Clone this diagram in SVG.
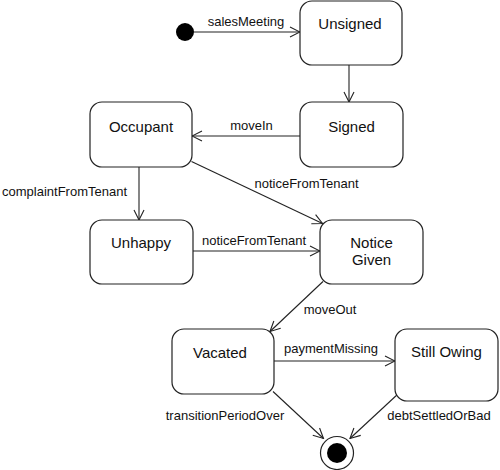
<svg xmlns="http://www.w3.org/2000/svg" width="500" height="470" viewBox="0 0 500 470">
<style>
.st{fill:#fff;stroke:#222;stroke-width:1.2}
.sn{font-family:"Liberation Sans",Arial,sans-serif;font-size:15px;fill:#111;text-anchor:middle}
.lb{font-family:"Liberation Sans",Arial,sans-serif;font-size:13px;fill:#111;text-anchor:middle}
.ln{fill:none;stroke:#222;stroke-width:1.1;marker-end:url(#ah)}
</style>
<defs>
<marker id="ah" viewBox="0 0 12 12" refX="11" refY="6" markerWidth="12" markerHeight="12" markerUnits="userSpaceOnUse" orient="auto">
<path d="M1,1 L11,6 L1,11" fill="none" stroke="#222" stroke-width="1.1"/>
</marker>
</defs>
<g id="connectors">
<line class="ln" x1="194" y1="32" x2="300" y2="32"/>
<line class="ln" x1="349" y1="65" x2="349" y2="102"/>
<line class="ln" x1="300" y1="136" x2="192" y2="136"/>
<line class="ln" x1="139" y1="167" x2="139" y2="220"/>
<line class="ln" x1="191.5" y1="161.5" x2="322.5" y2="223.5"/>
<line class="ln" x1="193" y1="251" x2="320" y2="251"/>
<line class="ln" x1="323" y1="281.5" x2="270" y2="331.5"/>
<line class="ln" x1="274" y1="361" x2="395" y2="361"/>
<line class="ln" x1="273" y1="391.5" x2="323.5" y2="438.5"/>
<line class="ln" x1="398.5" y1="393.5" x2="350" y2="438.5"/>
<text class="lb" x="246" y="26">salesMeeting</text>
<text class="lb" x="251.5" y="130">moveIn</text>
<text class="lb" x="2" y="196" style="text-anchor:start">complaintFromTenant</text>
<text class="lb" x="306.5" y="188">noticeFromTenant</text>
<text class="lb" x="254" y="245">noticeFromTenant</text>
<text class="lb" x="330" y="314">moveOut</text>
<text class="lb" x="331" y="353">paymentMissing</text>
<text class="lb" x="225" y="420">transitionPeriodOver</text>
<text class="lb" x="439" y="420">debtSettledOrBad</text>
</g>
<g id="initial"><circle cx="185" cy="32" r="9" fill="#000"/></g>
<g id="unsigned"><rect class="st" x="300" y="1" width="102" height="64" rx="12"/><text class="sn" x="350" y="29">Unsigned</text></g>
<g id="signed"><rect class="st" x="300" y="102" width="103" height="65" rx="12"/><text class="sn" x="351.5" y="132">Signed</text></g>
<g id="occupant"><rect class="st" x="90" y="102" width="102" height="65" rx="12"/><text class="sn" x="141" y="132">Occupant</text></g>
<g id="unhappy"><rect class="st" x="90" y="220" width="103" height="64" rx="12"/><text class="sn" x="141" y="248">Unhappy</text></g>
<g id="noticeGiven"><rect class="st" x="320" y="220" width="103" height="64" rx="12"/><text class="sn" x="371.5" y="248">Notice</text><text class="sn" x="371.5" y="265">Given</text></g>
<g id="vacated"><rect class="st" x="172" y="329" width="102" height="65" rx="12"/><text class="sn" x="220" y="358">Vacated</text></g>
<g id="stillOwing"><rect class="st" x="395" y="329" width="103" height="72" rx="12"/><text class="sn" x="446.5" y="357">Still Owing</text></g>
<g id="final"><circle cx="337" cy="453" r="16.5" fill="#fff" stroke="#222" stroke-width="1.2"/><circle cx="337" cy="453" r="10" fill="#000"/></g>
</svg>
